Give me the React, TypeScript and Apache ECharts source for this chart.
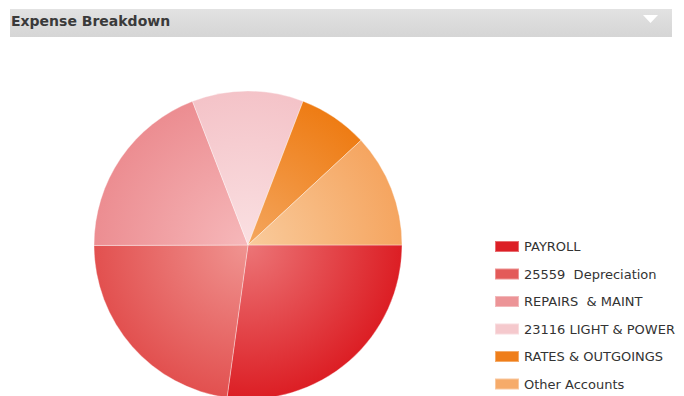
import React, { useEffect, useRef } from "react";
import * as echarts from "echarts";

const categories = [
  "PAYROLL",
  "25559  Depreciation",
  "REPAIRS  & MAINT",
  "23116 LIGHT & POWER",
  "RATES & OUTGOINGS",
  "Other Accounts",
];
const values = [27.2, 22.8, 19.2, 11.7, 7.3, 11.9];
const edgeColors = ["#dc1e24", "#e2504f", "#ec8d91", "#f4c3c8", "#ee7c14", "#f5a560"];
const centerColors = ["#ec7577", "#f09491", "#f6b8ba", "#fae0e2", "#f4a65e", "#f9cb9c"];
const legendColors = ["#dc1f26", "#e35a59", "#ec9497", "#f5c9cd", "#ef7e1a", "#f6ab6a"];
const title = "Expense Breakdown";

const CX = 248;
const CY = 245;
const R = 154;

export default function App() {
  const ref = useRef<HTMLDivElement>(null);
  useEffect(() => {
    if (!ref.current) return;
    const chart = echarts.init(ref.current, null, { renderer: "svg" });
    chart.setOption({
      animation: false,
      backgroundColor: "#ffffff",
      title: {
        text: title,
        left: 11,
        top: 14,
        padding: 0,
        textStyle: {
          fontFamily: "DejaVu Sans",
          fontSize: 14,
          fontWeight: "bold",
          color: "#3a3a3a",
        },
      },
      graphic: [
        {
          type: "rect",
          z: -1,
          shape: { x: 10, y: 9, width: 662, height: 28 },
          style: {
            fill: new echarts.graphic.LinearGradient(0, 0, 0, 1, [
              { offset: 0, color: "#e2e2e2" },
              { offset: 1, color: "#d5d5d5" },
            ]),
          },
        },
        {
          type: "polygon",
          shape: { points: [[643, 15], [658, 15], [650.5, 23]] },
          style: { fill: "#ffffff" },
        },
      ],
      legend: {
        orient: "vertical",
        left: 494,
        top: 240,
        padding: 0,
        itemWidth: 24,
        itemHeight: 11,
        itemGap: 14.5,
        icon: "rect",
        textStyle: { fontFamily: "DejaVu Sans", fontSize: 13, color: "#333333" },
        data: categories.map((c, i) => ({ name: c, itemStyle: { color: legendColors[i] } })),
      },
      series: [
        {
          type: "pie",
          center: [CX, CY],
          radius: R,
          startAngle: 0,
          clockwise: true,
          label: { show: false },
          labelLine: { show: false },
          emphasis: { disabled: true },
          itemStyle: { borderColor: "rgba(255,255,255,0.35)", borderWidth: 1 },
          data: categories.map((c, i) => ({
            name: c,
            value: values[i],
            itemStyle: {
              color: {
                type: "radial",
                x: CX,
                y: CY,
                r: R,
                global: true,
                colorStops: [
                  { offset: 0, color: centerColors[i] },
                  { offset: 1, color: edgeColors[i] },
                ],
              },
            },
          })),
        },
      ],
    });
    return () => chart.dispose();
  }, []);
  return (
    <div
      ref={ref}
      style={{ position: "absolute", left: 0, top: 0, width: 684, height: 396 }}
    />
  );
}
